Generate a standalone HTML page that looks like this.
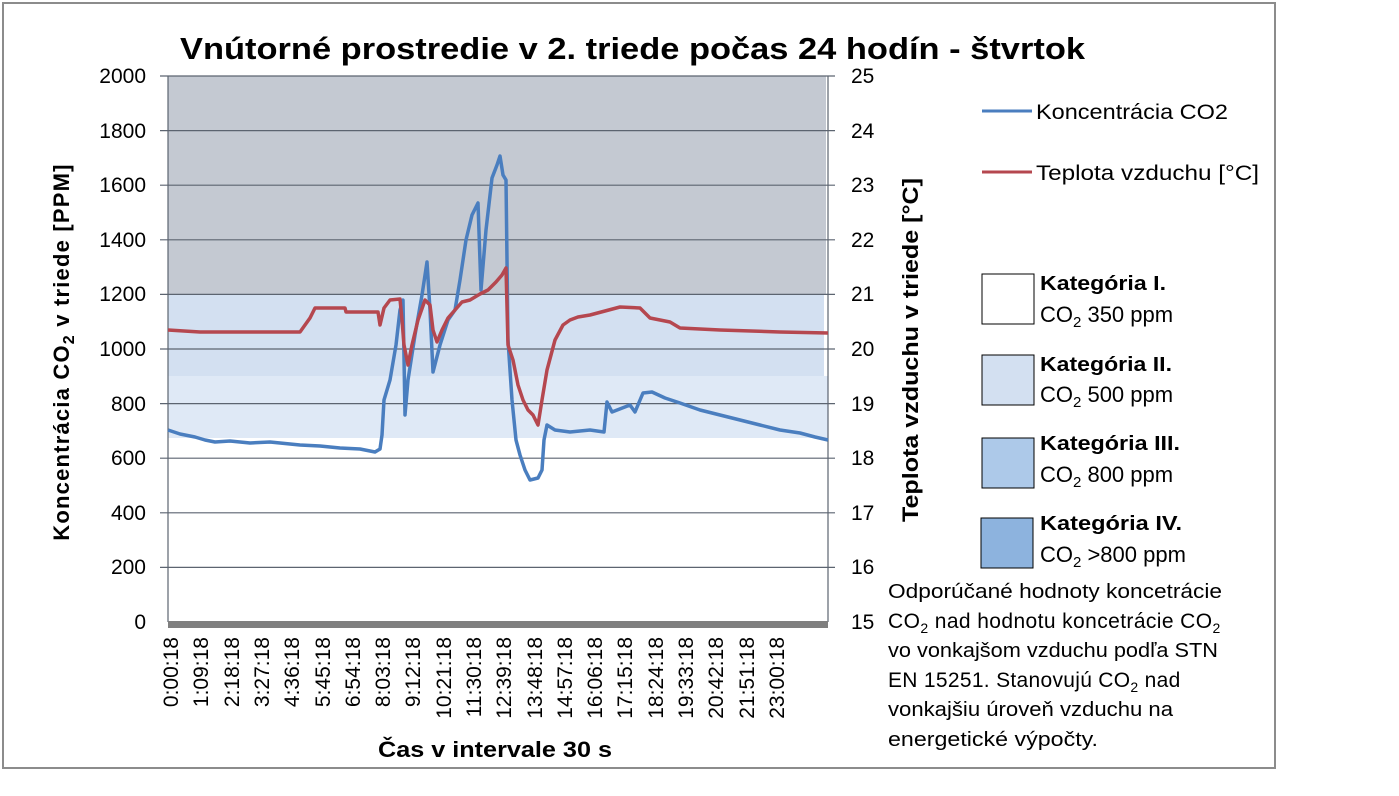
<!DOCTYPE html>
<html><head><meta charset="utf-8"><style>
body{margin:0;background:#fff;}
svg{display:block;font-family:"Liberation Sans",sans-serif;}
</style></head><body>
<svg width="1399" height="796" viewBox="0 0 1399 796">
<rect x="3" y="3" width="1272" height="765" fill="#fff" stroke="#8c8c8c" stroke-width="2"/>
<rect x="168" y="76" width="658" height="218" fill="#c4c9d2"/>
<rect x="168" y="294" width="656" height="82" fill="#d3e0f1"/>
<rect x="168" y="376" width="660" height="62" fill="#dfe9f6"/>
<g stroke="#5c6470" stroke-width="1.2">
<line x1="160" y1="76" x2="835" y2="76"/><line x1="160" y1="130.6" x2="835" y2="130.6"/>
<line x1="160" y1="185.2" x2="835" y2="185.2"/><line x1="160" y1="239.8" x2="835" y2="239.8"/>
<line x1="160" y1="294.4" x2="835" y2="294.4"/><line x1="160" y1="349" x2="835" y2="349"/>
<line x1="160" y1="403.6" x2="835" y2="403.6"/><line x1="160" y1="458.2" x2="835" y2="458.2"/>
<line x1="160" y1="512.8" x2="835" y2="512.8"/><line x1="160" y1="567.4" x2="835" y2="567.4"/>
<line x1="168" y1="76" x2="168" y2="622"/><line x1="828" y1="76" x2="828" y2="622"/>
</g>
<rect x="168" y="621" width="660" height="7" fill="#7f7f7f"/>
<text x="180" y="59" font-size="31" font-weight="bold" textLength="905" lengthAdjust="spacingAndGlyphs">Vnútorné prostredie v 2. triede počas 24 hodín - štvrtok</text>
<g font-size="21" text-anchor="end">
<text x="146" y="83">2000</text><text x="146" y="138">1800</text><text x="146" y="192">1600</text>
<text x="146" y="247">1400</text><text x="146" y="301">1200</text><text x="146" y="356">1000</text>
<text x="146" y="411">800</text><text x="146" y="465">600</text><text x="146" y="520">400</text>
<text x="146" y="574">200</text><text x="146" y="629">0</text>
</g>
<g font-size="21">
<text x="851" y="83">25</text><text x="851" y="138">24</text><text x="851" y="192">23</text>
<text x="851" y="247">22</text><text x="851" y="301">21</text><text x="851" y="356">20</text>
<text x="851" y="411">19</text><text x="851" y="465">18</text><text x="851" y="520">17</text>
<text x="851" y="574">16</text><text x="851" y="629">15</text>
</g>
<text transform="translate(69,352) rotate(-90)" font-size="22" font-weight="bold" text-anchor="middle" letter-spacing="1.2">Koncentrácia CO<tspan font-size="16" dy="5">2</tspan><tspan dy="-5"> v triede [PPM]</tspan></text>
<text transform="translate(918,350) rotate(-90)" font-size="22" font-weight="bold" text-anchor="middle" textLength="344" lengthAdjust="spacingAndGlyphs">Teplota vzduchu v triede [°C]</text>
<g font-size="21" text-anchor="end">
<text transform="translate(178,637) rotate(-90)">0:00:18</text>
<text transform="translate(208,637) rotate(-90)">1:09:18</text>
<text transform="translate(239,637) rotate(-90)">2:18:18</text>
<text transform="translate(269,637) rotate(-90)">3:27:18</text>
<text transform="translate(299,637) rotate(-90)">4:36:18</text>
<text transform="translate(330,637) rotate(-90)">5:45:18</text>
<text transform="translate(360,637) rotate(-90)">6:54:18</text>
<text transform="translate(390,637) rotate(-90)">8:03:18</text>
<text transform="translate(420,637) rotate(-90)">9:12:18</text>
<text transform="translate(451,637) rotate(-90)">10:21:18</text>
<text transform="translate(481,637) rotate(-90)">11:30:18</text>
<text transform="translate(511,637) rotate(-90)">12:39:18</text>
<text transform="translate(542,637) rotate(-90)">13:48:18</text>
<text transform="translate(572,637) rotate(-90)">14:57:18</text>
<text transform="translate(602,637) rotate(-90)">16:06:18</text>
<text transform="translate(632,637) rotate(-90)">17:15:18</text>
<text transform="translate(663,637) rotate(-90)">18:24:18</text>
<text transform="translate(693,637) rotate(-90)">19:33:18</text>
<text transform="translate(723,637) rotate(-90)">20:42:18</text>
<text transform="translate(754,637) rotate(-90)">21:51:18</text>
<text transform="translate(784,637) rotate(-90)">23:00:18</text>
</g>
<text x="378" y="757" font-size="22" font-weight="bold" textLength="234" lengthAdjust="spacingAndGlyphs">Čas v intervale 30 s</text>
<polyline fill="none" stroke="#4a7ebf" stroke-width="3.5" stroke-linejoin="round" points="168,430 180,434 195,437 205,440 215,442 230,441 250,443 270,442 300,445 320,446 340,448 360,449 375,452 380,449 382,435 384,400 390,380 396,345 400,310 403,300 405,415 408,380 415,335 422,295 427,262 430,310 433,372 440,345 448,320 455,310 460,280 466,240 472,215 478,203 481,290 486,230 492,178 497,165 500,156 503,175 506,180 508,340 512,400 516,440 520,455 525,470 530,480 538,478 542,470 544,440 547,425 555,430 570,432 590,430 604,432 607,402 612,412 630,405 635,412 643,393 652,392 665,398 680,403 700,410 720,415 740,420 760,425 780,430 800,433 815,437 828,440"/>
<polyline fill="none" stroke="#b5474f" stroke-width="3.5" stroke-linejoin="round" points="168,330 200,332 240,332 270,332 300,332 305,325 310,318 315,308 345,308 346,312 378,312 380,325 384,308 390,300 400,299 402,320 404,345 408,365 412,345 418,320 425,300 430,305 433,330 437,342 442,330 448,318 455,310 462,302 470,300 480,294 488,290 496,282 502,275 506,268 508,345 513,360 518,385 523,400 528,410 533,415 538,425 542,400 547,370 555,340 563,325 570,320 578,317 590,315 620,307 640,308 650,318 670,322 680,328 720,330 780,332 828,333"/>
<line x1="982" y1="111" x2="1032" y2="111" stroke="#4a7ebf" stroke-width="3"/>
<text x="1036" y="119" font-size="21" textLength="192" lengthAdjust="spacingAndGlyphs">Koncentrácia CO2</text>
<line x1="982" y1="172" x2="1032" y2="172" stroke="#b5474f" stroke-width="3"/>
<text x="1036" y="180" font-size="21" textLength="223" lengthAdjust="spacingAndGlyphs">Teplota vzduchu [°C]</text>
<rect x="982" y="274" width="52" height="50" fill="#fff" stroke="#000" stroke-width="1"/>
<rect x="982" y="355" width="52" height="50" fill="#d3e0f1" stroke="#000" stroke-width="1"/>
<rect x="982" y="438" width="52" height="50" fill="#adc9e9" stroke="#000" stroke-width="1"/>
<rect x="981" y="518" width="52" height="50" fill="#8db3de" stroke="#000" stroke-width="1"/>
<g font-size="20">
<text x="1040" y="290" font-weight="bold" textLength="126" lengthAdjust="spacingAndGlyphs">Kategória I.</text>
<text x="1040" y="322" font-size="22">CO<tspan font-size="15" dy="5">2</tspan><tspan dy="-5"> 350 ppm</tspan></text>
<text x="1040" y="371" font-weight="bold" textLength="132" lengthAdjust="spacingAndGlyphs">Kategória II.</text>
<text x="1040" y="402" font-size="22">CO<tspan font-size="15" dy="5">2</tspan><tspan dy="-5"> 500 ppm</tspan></text>
<text x="1040" y="450" font-weight="bold" textLength="140" lengthAdjust="spacingAndGlyphs">Kategória III.</text>
<text x="1040" y="482" font-size="22">CO<tspan font-size="15" dy="5">2</tspan><tspan dy="-5"> 800 ppm</tspan></text>
<text x="1040" y="530" font-weight="bold" textLength="142" lengthAdjust="spacingAndGlyphs">Kategória IV.</text>
<text x="1040" y="562" font-size="22">CO<tspan font-size="15" dy="5">2</tspan><tspan dy="-5"> &gt;800 ppm</tspan></text>
</g>
<g font-size="20">
<text x="888" y="598" textLength="334" lengthAdjust="spacingAndGlyphs">Odporúčané hodnoty koncetrácie</text>
<text x="888" y="628" font-size="21" letter-spacing="0.4">CO<tspan font-size="14" dy="5">2</tspan><tspan dy="-5"> nad hodnotu koncetrácie CO</tspan><tspan font-size="14" dy="5">2</tspan></text>
<text x="888" y="657" textLength="330" lengthAdjust="spacingAndGlyphs">vo vonkajšom vzduchu podľa STN</text>
<text x="888" y="687" font-size="21" letter-spacing="0.3">EN 15251. Stanovujú CO<tspan font-size="14" dy="5">2</tspan><tspan dy="-5"> nad</tspan></text>
<text x="888" y="716" textLength="285" lengthAdjust="spacingAndGlyphs">vonkajšiu úroveň vzduchu na</text>
<text x="888" y="746" textLength="210" lengthAdjust="spacingAndGlyphs">energetické výpočty.</text>
</g>
</svg>
</body></html>
